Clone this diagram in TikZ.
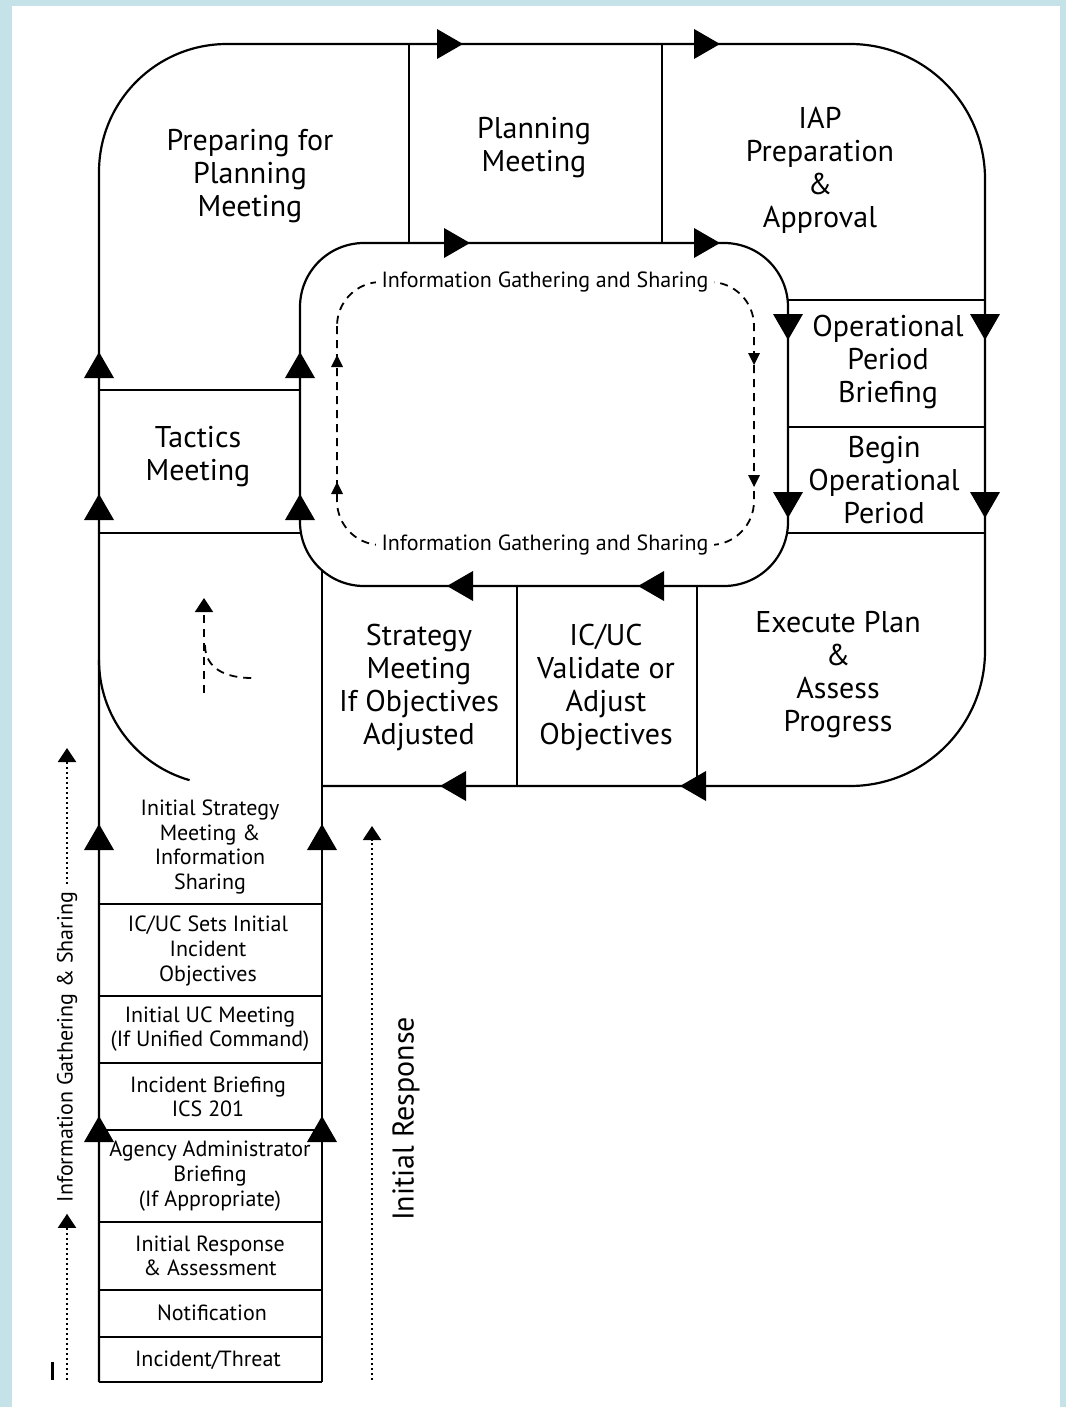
\documentclass[tikz,border=0pt]{standalone}
\usepackage{fontspec}
\setmainfont{PT Sans}
\usetikzlibrary{arrows.meta}

\definecolor{framebl}{RGB}{196,226,232}
\tikzset{
  stage/.style={align=center, font=\fontsize{15}{16.5}\selectfont},
  substage/.style={align=center, font=\fontsize{11}{12.3}\selectfont},
  loopnote/.style={fill=white, inner xsep=3pt, inner ysep=1.5pt, font=\fontsize{11}{12}\selectfont},
  dashline/.style={line width=0.9pt, dash pattern=on 4pt off 3pt},
  dotline/.style={line width=1pt, dash pattern=on 1pt off 1.5pt},
}

\begin{document}
\begin{tikzpicture}[x=0.5pt, y=-0.5pt, line width=1.1pt, line join=round, >={Triangle[length=7pt,width=9pt]}]
  \fill[framebl] (0,0) rectangle (1066,1407);
  \fill[white] (12,6) rectangle (1060,1407);
  \useasboundingbox (0,0) rectangle (1066,1407);

  % outer cycle
  \draw (99,1382) -- (99,172) arc[start angle=180, end angle=270, radius=128]
    -- (850,44) arc[start angle=270, end angle=360, radius=135]
    -- (985,651) arc[start angle=0, end angle=90, radius=135] -- (322,786);
  % inner cycle
  \draw[rounded corners=32pt] (300,243) rectangle (788,586);
  \draw (99,660) arc[start angle=180, end angle=106, radius=125];

  % dividers
  \draw (409,44) -- (409,243);
  \draw (662,44) -- (662,243);
  \draw (517,586) -- (517,786);
  \draw (697,586) -- (697,786);
  \draw (322,570) -- (322,1382);
  \foreach \py in {300,427,533} { \draw (788,\py) -- (985,\py); }
  \foreach \py in {390,533} { \draw (99,\py) -- (300,\py); }
  \foreach \py in {904,996,1063,1130,1222,1290,1337,1382} { \draw (99,\py) -- (322,\py); }

  % flow arrowheads
  \foreach \px/\py/\ang in {463/44/0, 720/44/0, 470/243/0, 720/243/0,
      788/340/270, 985/340/270, 788/518/270, 985/518/270,
      447/586/180, 638/586/180, 440/786/180, 680/786/180,
      99/352/90, 300/352/90, 99/494/90, 300/494/90,
      99/824/90, 322/824/90, 99/1116/90, 322/1116/90}
    { \fill[shift={(\px,\py)}, rotate=\ang] (0,0) -- (-26,-15) -- (-26,15) -- cycle; }

  % stages of the cycle
  \node[stage] (prep) at (250,176) {Preparing for\\Planning\\Meeting};
  \node[stage] (plan) at (534,148) {Planning\\Meeting};
  \node[stage] (iap) at (820,170) {IAP\\Preparation\\\&\\Approval};
  \node[stage] (opbrief) at (888,362) {Operational\\Period\\Briefing};
  \node[stage] (beginop) at (884,480) {Begin\\Operational\\Period};
  \node[stage] (tactics) at (198,457) {Tactics\\Meeting};
  \node[stage] (strategy) at (419,687) {Strategy\\Meeting\\If Objectives\\Adjusted};
  \node[stage] (validate) at (606,687) {IC/UC\\Validate or\\Adjust\\Objectives};
  \node[stage] (execute) at (838,675) {Execute Plan\\\&\\Assess\\Progress};

  % initial response column
  \node[substage] (initstrat) at (210,847) {Initial Strategy\\Meeting \&\\Information\\Sharing};
  \node[substage] (setobj) at (208,951) {IC/UC Sets Initial\\Incident\\Objectives};
  \node[substage] (ucmeet) at (210,1029) {Initial UC Meeting\\(If Unified Command)};
  \node[substage] (icsbrief) at (208,1097) {Incident Briefing\\ICS 201};
  \node[substage] (agency) at (210,1176) {Agency Administrator\\Briefing\\(If Appropriate)};
  \node[substage] (response) at (210,1256) {Initial Response\\\& Assessment};
  \node[substage] (notify) at (212,1313) {Notification};
  \node[substage] (threat) at (208,1360) {Incident/Threat};

  % information gathering inside the loop
  \draw[dashline, rounded corners=22pt] (337,282) rectangle (754,545);
  \node[loopnote] (igstop) at (545,282) {Information Gathering and Sharing};
  \node[loopnote] (igsbot) at (545,545) {Information Gathering and Sharing};
  \foreach \px/\py/\ang in {337/355/90, 337/482/90, 754/365/270, 754/487/270}
    { \fill[shift={(\px,\py)}, rotate=\ang] (0,0) -- (-12,-6) -- (-12,6) -- cycle; }

  \draw[dashline, ->] (204,693) -- (204,598);
  \draw[dashline] (205,645) .. controls (205,668) and (225,678) .. (252,678);

  % side notes
  \node[substage, rotate=90] (igsside) at (67,1047) {Information Gathering \& Sharing};
  \coordinate (igsfoot) at (67,1380);
  \coordinate (igshead) at (67,748);
  \draw[dotline, ->, shorten >=2pt] (igsfoot) -- (igsside.west);
  \draw[dotline, ->] (igsside.east) -- (igshead);
  \draw[line width=1.5pt] (52,1362) -- (52,1380);

  \node[stage, rotate=90] (irlabel) at (406,1119) {Initial Response};
  \coordinate (irfoot) at (372,1380);
  \coordinate (irhead) at (372,826);
  \draw[dotline, ->] (irfoot) -- (irhead);
\end{tikzpicture}
\end{document}
